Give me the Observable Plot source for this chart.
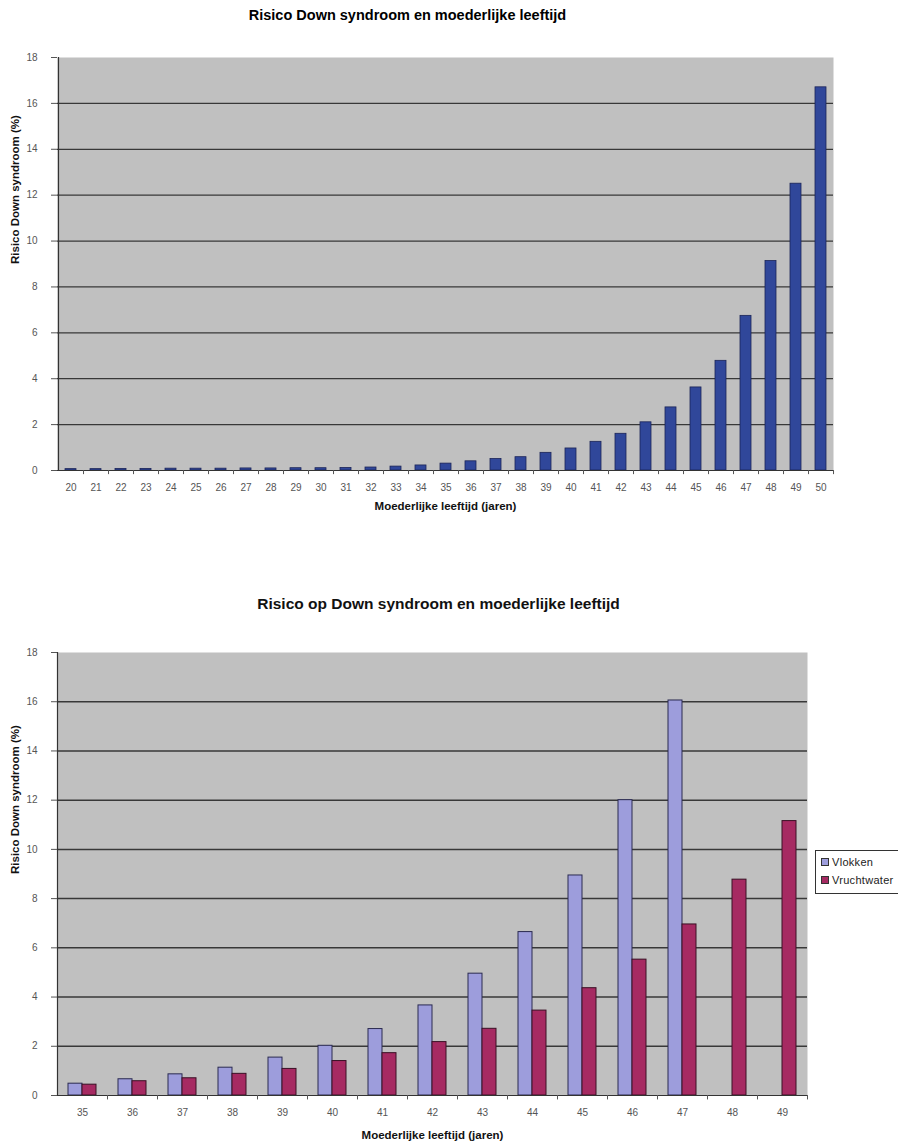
<!DOCTYPE html>
<html>
<head>
<meta charset="utf-8">
<script src="https://cdn.jsdelivr.net/npm/d3@7"></script>
<script src="https://cdn.jsdelivr.net/npm/@observablehq/plot@0.6"></script>
<style>
  html, body { margin: 0; padding: 0; background: #fff; }
  #root { position: relative; width: 898px; height: 1145px; overflow: hidden; font-family: "Liberation Sans", Arial, sans-serif; }
  #chart1 { position: absolute; left: 0; top: 0; }
  #chart2 { position: absolute; left: 0; top: 580px; }
  #legend { position: absolute; left: 815px; top: 850px; width: 100px; height: 44px; box-sizing: border-box;
            border: 1px solid #333; background: #fff; font-size: 11px; color: #222; letter-spacing: 0.3px; }
  .item { position: absolute; left: 5px; white-space: nowrap; display: flex; align-items: center; }
  .sw { width: 6px; height: 6px; border: 1px solid #333; margin-right: 3px; }
</style>
</head>
<body>
<div id="root">
  <div id="chart1"></div>
  <div id="chart2"></div>
  <div id="legend"></div>
</div>
<script>
// ---------- data ----------
const ages1 = [20,21,22,23,24,25,26,27,28,29,30,31,32,33,34,35,36,37,38,39,40,41,42,43,44,45,46,47,48,49,50];
const risk1 = [0.06,0.06,0.07,0.07,0.08,0.08,0.08,0.09,0.09,0.10,0.10,0.11,0.13,0.17,0.22,0.30,0.40,0.50,0.58,0.77,0.96,1.25,1.60,2.10,2.75,3.62,4.78,6.74,9.13,12.5,16.7];

const ages2 = [35,36,37,38,39,40,41,42,43,44,45,46,47,48,49];
const series2 = ["Vlokken", "Vruchtwater"];
const vlokken = [0.48,0.66,0.86,1.13,1.54,2.02,2.70,3.66,4.95,6.64,8.94,12.0,16.05,null,null];
const vruchtwater = [0.44,0.58,0.70,0.88,1.08,1.40,1.72,2.17,2.71,3.45,4.36,5.52,6.95,8.77,11.15];

const yTicks = [0,2,4,6,8,10,12,14,16,18];
const titles = ["Risico Down syndroom en moederlijke leeftijd", "Risico op Down syndroom en moederlijke leeftijd"];
const yLabel = "Risico Down syndroom (%)";
const xLabel = "Moederlijke leeftijd (jaren)";
const colors2 = ["#9d9ddc", "#a62a62"];

// ---------- tables ----------
const data1 = ages1.map((a, i) => ({age: a, risk: risk1[i]}));
const dataV = ages2.map((a, i) => ({age: a, value: vlokken[i]})).filter(d => d.value != null);
const dataR = ages2.map((a, i) => ({age: a, value: vruchtwater[i]})).filter(d => d.value != null);
const grid = yTicks.filter(t => t > 0 && t < 18);

const FONT = '"Liberation Sans", Arial, sans-serif';
const W = 898;

// ---------- chart 1 ----------
const m1 = {top: 57, right: 65, bottom: 50, left: 57};
const step1 = (W - m1.left - m1.right) / ages1.length;
const chart1 = Plot.plot({
  width: W, height: 520,
  marginTop: m1.top, marginRight: m1.right, marginBottom: m1.bottom, marginLeft: m1.left,
  style: {fontFamily: FONT, fontSize: "10px", background: "transparent", overflow: "visible"},
  x: {domain: ages1, paddingInner: 0.56, paddingOuter: 0.28},
  y: {domain: [0, 18]},
  marks: [
    Plot.frame({fill: "#c0c0c0", stroke: null}),
    Plot.ruleY(grid, {stroke: "#383838", strokeWidth: 1.2}),
    Plot.barY(data1, {x: "age", y: "risk", fill: "#30479a", stroke: "#1b2457", strokeWidth: 0.8}),
    Plot.ruleY([0], {stroke: "#333", strokeWidth: 1.2}),
    Plot.ruleX([ages1[0]], {y1: 0, y2: 18, dx: -step1 / 2, stroke: "#333", strokeWidth: 1.2}),
    Plot.ruleX(ages1, {y1: 0, y2: -0.18, dx: step1 / 2, stroke: "#555"}),
    Plot.axisY({ticks: yTicks, tickSize: 6, tickPadding: 14, label: null, stroke: "#555", fill: "#555"}),
    Plot.axisX({tickSize: 0, tickPadding: 13, label: null, fill: "#555"}),
    Plot.text([yLabel], {frameAnchor: "left", dx: -42, rotate: -90, fontWeight: "bold", fontSize: 11.5, fill: "#111"}),
    Plot.text([xLabel], {frameAnchor: "bottom", dy: 36, lineAnchor: "middle", fontWeight: "bold", fontSize: 11.5, fill: "#111"}),
    Plot.text([titles[0]], {frameAnchor: "top", dx: -38, dy: -42, lineAnchor: "middle", fontWeight: "bold", fontSize: 14.5, fill: "#000"})
  ]
});
document.getElementById("chart1").appendChild(chart1);

// ---------- chart 2 ----------
const m2 = {top: 72, right: 91, bottom: 50, left: 57};
const step2 = (W - m2.left - m2.right) / ages2.length;
const pad2 = 0.44;
const half2 = step2 * (1 - pad2) / 2;
const chart2 = Plot.plot({
  width: W, height: 565,
  marginTop: m2.top, marginRight: m2.right, marginBottom: m2.bottom, marginLeft: m2.left,
  style: {fontFamily: FONT, fontSize: "10px", background: "transparent", overflow: "visible"},
  x: {domain: ages2, paddingInner: pad2, paddingOuter: pad2 / 2},
  y: {domain: [0, 18]},
  marks: [
    Plot.frame({fill: "#c0c0c0", stroke: null}),
    Plot.ruleY(grid, {stroke: "#383838", strokeWidth: 1.5}),
    Plot.barY(dataV, {x: "age", y: "value", insetRight: half2, fill: colors2[0], stroke: "#2a2a50", strokeWidth: 1}),
    Plot.barY(dataR, {x: "age", y: "value", insetLeft: half2, fill: colors2[1], stroke: "#3a1025", strokeWidth: 1}),
    Plot.ruleY([0], {stroke: "#333", strokeWidth: 1.2}),
    Plot.ruleX([ages2[0]], {y1: 0, y2: 18, dx: -step2 / 2, stroke: "#333", strokeWidth: 1.2}),
    Plot.ruleX(ages2, {y1: 0, y2: -0.18, dx: step2 / 2, stroke: "#555"}),
    Plot.axisY({ticks: yTicks, tickSize: 6, tickPadding: 14, label: null, stroke: "#555", fill: "#555"}),
    Plot.axisX({tickSize: 0, tickPadding: 13, label: null, fill: "#555"}),
    Plot.text([yLabel], {frameAnchor: "left", dx: -42, rotate: -90, fontWeight: "bold", fontSize: 11.5, fill: "#111"}),
    Plot.text([xLabel], {frameAnchor: "bottom", dy: 40, lineAnchor: "middle", fontWeight: "bold", fontSize: 11.5, fill: "#111"}),
    Plot.text([titles[1]], {frameAnchor: "top", dx: 6, dy: -48, lineAnchor: "middle", fontWeight: "bold", fontSize: 15.5, fill: "#111"})
  ]
});
document.getElementById("chart2").appendChild(chart2);

// ---------- legend ----------
const legend = document.getElementById("legend");
series2.forEach((s, i) => {
  const it = document.createElement("div");
  it.className = "item";
  it.style.top = (5 + i * 18) + "px";
  const sw = document.createElement("span");
  sw.className = "sw";
  sw.style.background = colors2[i];
  const tx = document.createElement("span");
  tx.textContent = s;
  it.appendChild(sw); it.appendChild(tx);
  legend.appendChild(it);
});
</script>
</body>
</html>
